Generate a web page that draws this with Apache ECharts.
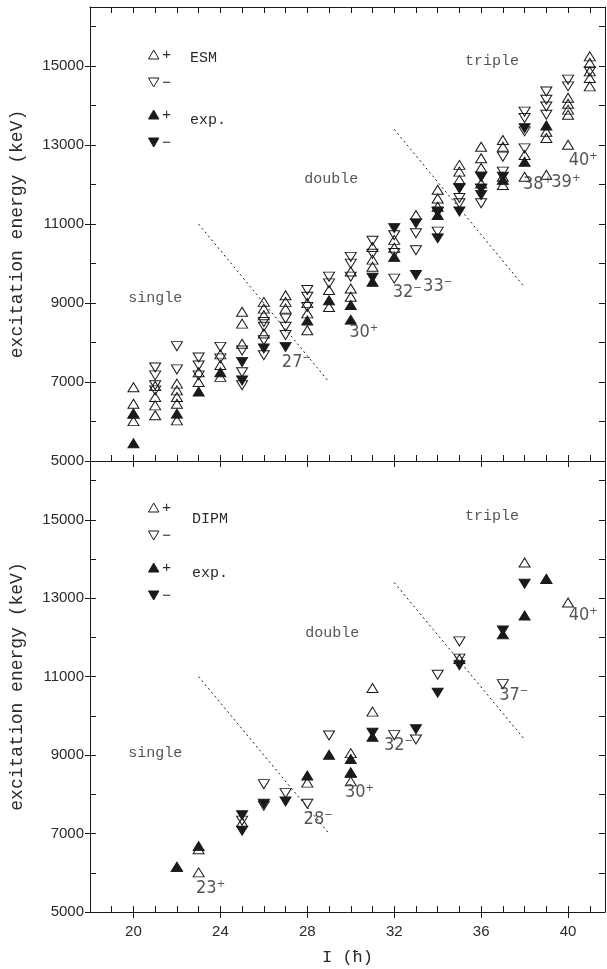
<!DOCTYPE html>
<html>
<head>
<meta charset="utf-8">
<script src="https://cdn.jsdelivr.net/npm/echarts@6/dist/echarts.min.js"></script>
<style>
html,body{margin:0;padding:0;background:#fff}
#c{width:607px;height:969px}
</style>
</head>
<body>
<div id="c"></div>
<script>
// ESM (top panel)
const esmPlus = [
  [20,6870],[20,6450],[20,6200],[20,6010],
  [21,6900],[21,6620],[21,6410],[21,6160],
  [22,6960],[22,6790],[22,6620],[22,6450],[22,6030],
  [23,7250],[23,7000],
  [24,7700],[24,7430],[24,7130],
  [25,8780],[25,8480],[25,7970],
  [26,9030],[26,8860],[26,8690],[26,8230],
  [27,9200],[27,9030],[27,8860],
  [28,9000],[28,8740],[28,8310],
  [29,9330],[29,8900],
  [30,9800],[30,9370],[30,9160],
  [31,10420],[31,10100],[31,9920],
  [32,10600],[32,10400],
  [33,11230],
  [34,11870],[34,11650],[34,11440],
  [35,12500],[35,12330],[35,12120],
  [36,12960],[36,12670],[36,12420],[36,12030],
  [37,13130],[37,12960],[37,12200],[37,11990],
  [38,12750],[38,12200],
  [39,13340],[39,13180],[39,12250],
  [40,14200],[40,14050],[40,13900],[40,13770],[40,13010],
  [41,15250],[41,15080],[41,14870],[41,14700],[41,14490]
]
const esmMinus = [
  [21,7370],[21,7170],[21,6920],[21,6790],
  [22,7910],[22,7320],
  [23,7620],[23,7420],[23,7170],
  [24,7890],[24,7600],
  [25,7800],[25,7250],[25,6920],
  [26,8520],[26,8400],[26,8060],[26,7680],
  [27,8610],[27,8400],[27,8190],
  [28,9330],[28,9160],[28,8900],
  [29,9670],[29,9500],
  [30,10170],[30,10000],[30,9670],
  [31,10580],[31,10250],
  [32,10720],[32,10270],[32,9620],
  [33,10770],[33,10340],
  [34,11300],[34,10810],
  [35,11910],[35,11660],[35,11530],
  [36,12200],[36,11900],[36,11530],
  [37,12710],[37,12330],
  [38,13850],[38,13690],[38,13350],[38,12920],
  [39,14360],[39,14150],[39,13980],[39,13770],
  [40,14660],[40,14490],
  [41,14870]
]
const expPlusTop = [[20,6200],[20,5450],[22,6200],[23,6760],[24,7250],[28,8560],[29,9070],[30,8950],[30,8580],[31,9540],[32,10170],[34,11230],[37,12120],[38,12580],[39,13500]]
const expMinusTop = [[25,7510],[25,7040],[26,7850],[27,7890],[31,9640],[32,10900],[33,11020],[33,9710],[34,11320],[34,10640],[35,11910],[35,11320],[36,12200],[36,11900],[36,11740],[37,12200],[38,13430]]

// DIPM (bottom panel)
const dipmPlus = [[22,6150],[23,6600],[23,6010],[25,7290],[28,8300],[30,9050],[30,8560],[30,8330],[31,10710],[31,10110],[35,11450],[38,13910],[39,13490],[40,12890]]
const dipmMinus = [[25,7330],[26,8260],[26,7710],[27,8030],[28,7760],[29,9500],[32,9510],[33,9400],[34,11050],[35,11900],[35,11460],[37,10810]]
const expPlusBot = [[22,6150],[23,6680],[28,8480],[29,9010],[30,8900],[30,8550],[31,9470],[37,12080],[38,12560],[39,13490]]
const expMinusBot = [[25,7470],[25,7070],[26,7760],[27,7820],[31,9570],[33,9660],[34,10590],[35,11290],[37,12180],[38,13370]]

// dashed borders between single / double / triple
const lineA = [[23,11000],[29,7000]]
const lineB = [[32,13400],[38,9400]]

// text notes [I, E, text]
const notesTop = [[21.0,9140,'single'],[29.1,12150,'double'],[36.5,15140,'triple']]
const notesBot = [[21.0,9050,'single'],[29.15,12110,'double'],[36.5,15090,'triple']]
const spinsTop = [[27.5,7490,'27⁻'],[30.6,8250,'30⁺'],[32.6,9270,'32⁻'],[34.0,9420,'33⁻'],[38.6,12020,'38⁺'],[39.9,12060,'39⁺'],[40.7,12620,'40⁺']]
const spinsBot = [[23.55,5610,'23⁺'],[28.5,7370,'28⁻'],[30.4,8060,'30⁺'],[32.2,9255,'32⁻'],[37.5,10530,'37⁻'],[40.7,12570,'40⁺']]

const xTicks = [20,24,28,32,36,40]
const yTicks = [5000,7000,9000,11000,13000,15000]

const UP = 'path://M5,0L10,8.66L0,8.66Z'
const DOWN = 'path://M0,0L10,0L5,8.66Z'
const INK = '#1a1a1a'
const TXT = '#2a2a2a'
const NUM = "'Liberation Sans', 'DejaVu Sans', sans-serif"
const NARROW = "'Liberation Sans Narrow', 'DejaVu Sans Condensed', 'Liberation Sans', sans-serif"
const MONO = "'Liberation Mono', 'DejaVu Sans Mono', monospace"

const myecharts = echarts.init(document.getElementById('c'))

const xBase = {min: 18, max: 41.7, interval: 1, splitLine: {show: false}}
const yBase = {min: 5000, max: 16500, interval: 1000, splitLine: {show: false}}
const line = {show: true, lineStyle: {color: INK, width: 1}}

const xAxes = []
const yAxes = []
;[0, 1].forEach(g => {
  // bottom: line + short inside ticks every unit
  xAxes.push(Object.assign({}, xBase, {gridIndex: g, position: 'bottom', axisLine: line,
    axisTick: {show: true, inside: true, length: 6, lineStyle: {color: INK}}, axisLabel: {show: false}}))
  // bottom: long major ticks crossing outside + labels
  xAxes.push(Object.assign({}, xBase, {gridIndex: g, position: 'bottom', axisLine: {show: false},
    axisTick: {show: true, inside: false, length: 6, customValues: xTicks, lineStyle: {color: INK}},
    axisLabel: {show: g === 1, customValues: xTicks, color: TXT, fontSize: 15, fontFamily: NUM, margin: 12},
    name: g === 1 ? 'I (ħ)' : '', nameLocation: 'middle', nameGap: 37,
    nameTextStyle: {fontFamily: MONO, fontSize: 17, color: TXT}}))
  // top
  xAxes.push(Object.assign({}, xBase, {gridIndex: g, position: 'top', axisLine: line,
    axisTick: {show: g === 0, inside: true, length: 6, lineStyle: {color: INK}}, axisLabel: {show: false}}))

  yAxes.push(Object.assign({}, yBase, {gridIndex: g, position: 'left', axisLine: line,
    axisTick: {show: true, inside: true, length: 6, lineStyle: {color: INK}}, axisLabel: {show: false}}))
  yAxes.push(Object.assign({}, yBase, {gridIndex: g, position: 'left', axisLine: {show: false},
    axisTick: {show: true, inside: false, length: 5, customValues: yTicks, lineStyle: {color: INK}},
    axisLabel: {show: true, customValues: yTicks, formatter: v => String(v), color: TXT,
      fontSize: 15, fontFamily: NUM, margin: 6},
    name: 'excitation energy (keV)', nameLocation: 'middle', nameGap: 64, nameRotate: 90,
    nameTextStyle: {fontFamily: MONO, fontSize: 18, color: TXT}}))
  yAxes.push(Object.assign({}, yBase, {gridIndex: g, position: 'right', axisLine: line,
    axisTick: {show: true, inside: true, length: 6, lineStyle: {color: INK}}, axisLabel: {show: false}}))
})

const openStyle = {color: 'rgba(0,0,0,0)', borderColor: INK, borderWidth: 1, opacity: 1}
const fillStyle = {color: INK, borderColor: INK, borderWidth: 1, opacity: 1}

const pts = (name, g, data, sym, style) => ({
  name: name, type: 'scatter', xAxisIndex: g * 3, yAxisIndex: g * 3,
  data: data, symbol: sym, symbolSize: [11, 9], itemStyle: style, silent: true
})
const dash = (g, data) => ({
  type: 'line', xAxisIndex: g * 3, yAxisIndex: g * 3, data: data, symbol: 'none', silent: true,
  lineStyle: {color: INK, width: 1, type: [2, 3]}
})
const text = (g, data, font, size) => ({
  type: 'scatter', xAxisIndex: g * 3, yAxisIndex: g * 3, silent: true, symbolSize: 0,
  data: data.map(d => ({value: [d[0], d[1]], name: d[2]})),
  label: {show: true, position: 'inside', formatter: p => p.name, color: TXT,
    fontFamily: font, fontSize: size}
})

const legendBox = (data, top) => ({
  data: data, orient: 'vertical', left: 143, top: top, itemWidth: 11, itemHeight: 9,
  itemGap: 13, selectedMode: false,
  formatter: n => n.slice(-1),
  textStyle: {fontFamily: NUM, fontSize: 15, color: TXT, padding: [0, 0, 0, -2]}
})

const option = {
  animation: false,
  grid: [
    {left: 86, right: 2, top: 7, height: 454},
    {left: 86, right: 2, top: 461, height: 451}
  ],
  xAxis: xAxes,
  yAxis: yAxes,
  legend: [
    legendBox([{name: 'ESM+', icon: UP, itemStyle: openStyle}, {name: 'ESM−', icon: DOWN, itemStyle: openStyle}], 42),
    legendBox([{name: 'exp+', icon: UP, itemStyle: fillStyle}, {name: 'exp−', icon: DOWN, itemStyle: fillStyle}], 102),
    legendBox([{name: 'DIPM+', icon: UP, itemStyle: openStyle}, {name: 'DIPM−', icon: DOWN, itemStyle: openStyle}], 495),
    legendBox([{name: 'exp+', icon: UP, itemStyle: fillStyle}, {name: 'exp−', icon: DOWN, itemStyle: fillStyle}], 555)
  ],
  graphic: [
    {type: 'text', left: 190, top: 51, style: {text: 'ESM', font: "15px 'Liberation Mono'", fill: TXT}},
    {type: 'text', left: 190, top: 113, style: {text: 'exp.', font: "15px 'Liberation Mono'", fill: TXT}},
    {type: 'text', left: 192, top: 512, style: {text: 'DIPM', font: "15px 'Liberation Mono'", fill: TXT}},
    {type: 'text', left: 192, top: 566, style: {text: 'exp.', font: "15px 'Liberation Mono'", fill: TXT}}
  ],
  series: [
    dash(0, lineA), dash(0, lineB),
    pts('ESM+', 0, esmPlus, UP, openStyle),
    pts('ESM−', 0, esmMinus, DOWN, openStyle),
    pts('exp+', 0, expPlusTop, UP, fillStyle),
    pts('exp−', 0, expMinusTop, DOWN, fillStyle),
    text(0, notesTop, MONO, 15),
    text(0, spinsTop, NARROW, 18),

    dash(1, lineA), dash(1, lineB),
    pts('DIPM+', 1, dipmPlus, UP, openStyle),
    pts('DIPM−', 1, dipmMinus, DOWN, openStyle),
    pts('exp+', 1, expPlusBot, UP, fillStyle),
    pts('exp−', 1, expMinusBot, DOWN, fillStyle),
    text(1, notesBot, MONO, 15),
    text(1, spinsBot, NARROW, 18)
  ]
}
myecharts.setOption(option)
</script>
</body>
</html>
